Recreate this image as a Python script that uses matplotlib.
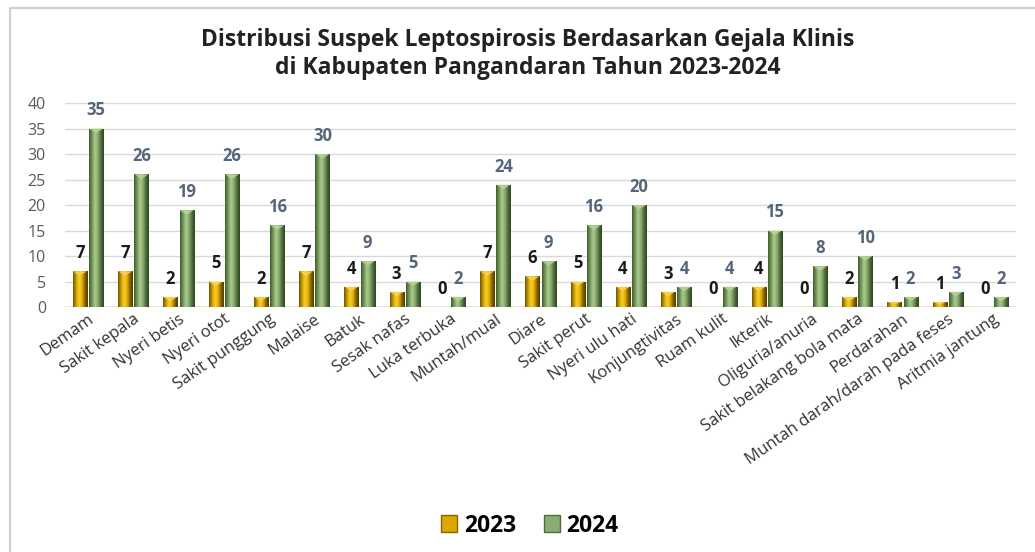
import numpy as np
import matplotlib
matplotlib.use("Agg")
import matplotlib.pyplot as plt
from matplotlib.colors import LinearSegmentedColormap
from matplotlib.patches import Polygon, Rectangle
from matplotlib.lines import Line2D

plt.rcParams['font.family'] = ['Open Sans', 'DejaVu Sans']

categories = ["Demam", "Sakit kepala", "Nyeri betis", "Nyeri otot", "Sakit punggung",
              "Malaise", "Batuk", "Sesak nafas", "Luka terbuka", "Muntah/mual",
              "Diare", "Sakit perut", "Nyeri ulu hati", "Konjungtivitas", "Ruam kulit",
              "Ikterik", "Oliguria/anuria", "Sakit belakang bola mata", "Perdarahan",
              "Muntah darah/darah pada feses", "Aritmia jantung"]
vals_2023 = [7, 7, 2, 5, 2, 7, 4, 3, 0, 7, 6, 5, 4, 3, 0, 4, 0, 2, 1, 1, 0]
vals_2024 = [35, 26, 19, 26, 16, 30, 9, 5, 2, 24, 9, 16, 20, 4, 4, 15, 8, 10, 2, 3, 2]
series_names = ["2023", "2024"]
y_ticks = [0, 5, 10, 15, 20, 25, 30, 35, 40]

gold_cmap = LinearSegmentedColormap.from_list(
    "gold", ["#6e5200", "#c99a00", "#f9d22a", "#e6b108", "#8a6600", "#4d3a00"])
green_cmap = LinearSegmentedColormap.from_list(
    "green", ["#3f5a2c", "#729758", "#adca92", "#8aac70", "#4f6e3a", "#2f4520"])
gold_top = "#f3d35a"
green_top = "#b7d39c"

fig = plt.figure(figsize=(10.35, 5.52), dpi=100)
fig.patch.set_facecolor("white")
ax = fig.add_axes([0.0632, 0.4438, 0.9180, 0.3696])

n = len(categories)
x = np.arange(n)
width = 0.31
offset = 0.18

ax.set_xlim(-0.5, n - 0.5)
ax.set_ylim(0, 40)
grad = np.linspace(0, 1, 64).reshape(1, -1)


def draw_series(xpos, values, cmap, top_color):
    bars = ax.bar(xpos, values, width, color="none", edgecolor="none", zorder=2)
    for b in bars:
        h = b.get_height()
        if h <= 0:
            continue
        x0, x1 = b.get_x(), b.get_x() + b.get_width()
        im = ax.imshow(grad, cmap=cmap, aspect="auto", extent=(x0, x1, 0, h),
                       zorder=2, interpolation="bicubic")
        im.set_clip_path(b)
        # bevelled cap on top of the column
        d = min(0.9, h * 0.5)
        xc = (x0 + x1) / 2
        ax.add_patch(Polygon([(x0, h), (xc, h - d), (x1, h)], closed=True,
                             facecolor=top_color, edgecolor="none", alpha=0.85,
                             zorder=3))
    return bars


draw_series(x - offset, vals_2023, gold_cmap, gold_top)
draw_series(x + offset, vals_2024, green_cmap, green_top)

for xi, v in zip(x - offset, vals_2023):
    ax.annotate(str(v), (xi, v), xytext=(0, 6.5), textcoords="offset points",
                ha="center", va="bottom", fontsize=12, fontweight="bold",
                color="#1a1a1a", zorder=4)
for xi, v in zip(x + offset, vals_2024):
    ax.annotate(str(v), (xi, v), xytext=(0, 6.5), textcoords="offset points",
                ha="center", va="bottom", fontsize=12, fontweight="bold",
                color="#55657a", zorder=4)

ax.set_yticks(y_ticks)
ax.set_yticklabels([str(t) for t in y_ticks], fontsize=11.5, color="#595959")
ax.yaxis.grid(True, color="#d9d9d9", linewidth=1.0, zorder=0)
ax.set_axisbelow(True)
ax.tick_params(axis="y", length=0, pad=14)
ax.tick_params(axis="x", length=0, pad=3)
ax.set_xticks(x)
ax.set_xticklabels(categories, rotation=35, ha="right", rotation_mode="anchor",
                   fontsize=12, color="#333333")
for s in ax.spines.values():
    s.set_visible(False)
ax.axhline(0, color="#e8e3c8", linewidth=1.2, zorder=1)

fig.text(0.51, 0.927, "Distribusi Suspek Leptospirosis Berdasarkan Gejala Klinis",
         ha="center", va="center", fontsize=16.5, fontweight="bold", color="#222222")
fig.text(0.51, 0.877, "di Kabupaten Pangandaran Tahun 2023-2024",
         ha="center", va="center", fontsize=16.5, fontweight="bold", color="#222222")

# legend with bevelled swatches
handles = [Rectangle((0, 0), 1, 1, facecolor="#d9a800", edgecolor="#8a6600"),
           Rectangle((0, 0), 1, 1, facecolor="#8aab72", edgecolor="#4f6e3a")]
fig.legend(handles, series_names, loc="center", bbox_to_anchor=(0.512, 0.048),
           ncol=2, frameon=False, prop={"weight": "bold", "size": 16.5},
           handlelength=0.7, handleheight=0.7, handletextpad=0.3,
           columnspacing=1.2)

# light frame along the top and left edges
fig.add_artist(Line2D([0.0097, 1.0], [0.986, 0.986], transform=fig.transFigure,
                      color="#d0d0d0", linewidth=1.5))
fig.add_artist(Line2D([0.0097, 0.0097], [0.0, 0.986], transform=fig.transFigure,
                      color="#d0d0d0", linewidth=1.5))

fig.savefig("out.png", dpi=100)
